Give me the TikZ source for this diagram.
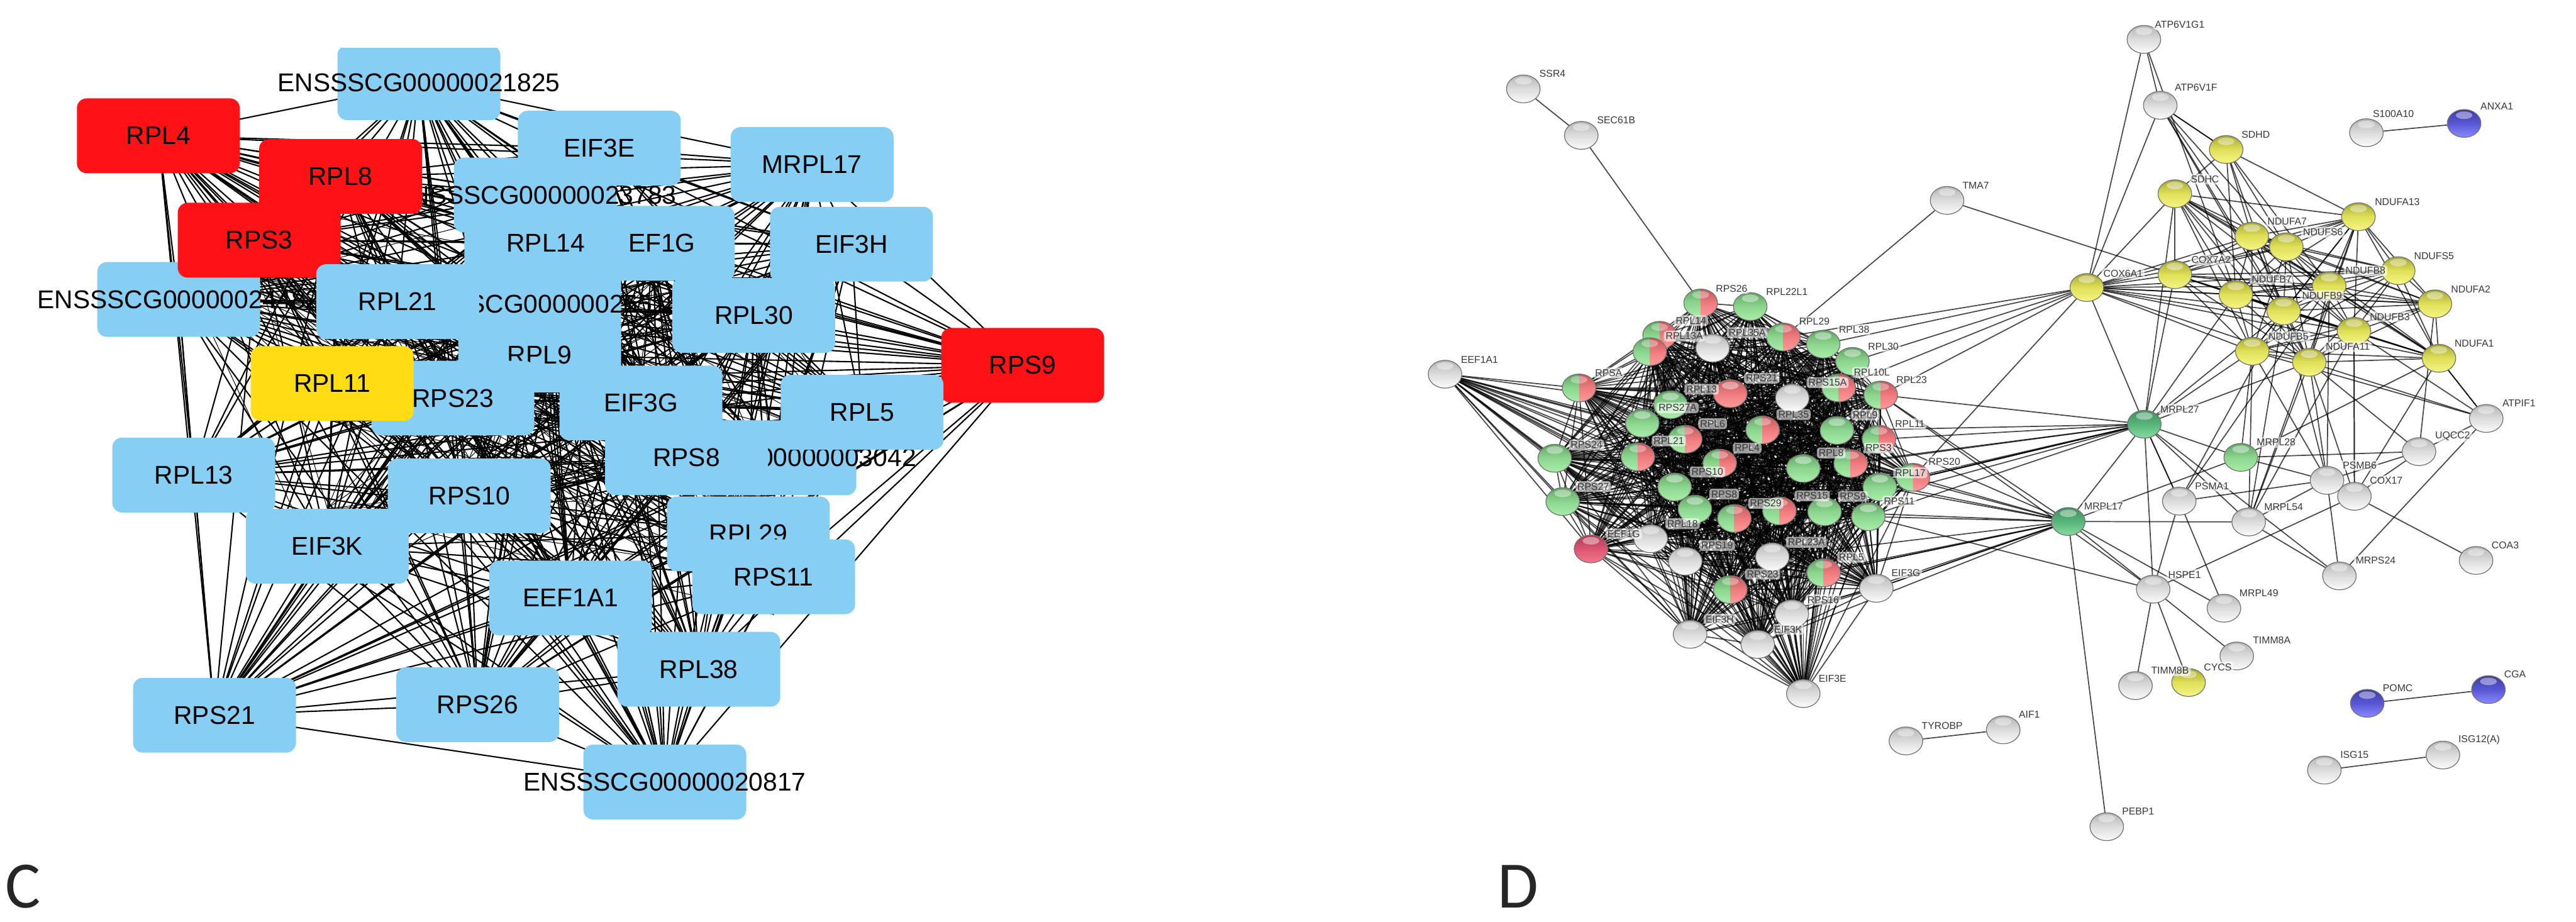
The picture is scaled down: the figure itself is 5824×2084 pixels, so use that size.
\documentclass[tikz,border=0pt]{standalone}
\usepackage{fontspec}
\usetikzlibrary{shapes.geometric}
\setmainfont{Liberation Sans}
\newfontfamily\letterfont{Carlito}
\pgfdeclarelayer{edgelayer}
\pgfdeclarelayer{lablayer}
\pgfsetlayers{edgelayer,main,lablayer}
\definecolor{cblue}{HTML}{87CEF5}
\definecolor{cred}{HTML}{FF1216}
\definecolor{cyel}{HTML}{FFDC14}
\definecolor{gT}{HTML}{5DA562}\definecolor{gM}{HTML}{8DD68F}\definecolor{gB}{HTML}{A8EDA8}
\definecolor{rT}{HTML}{C4565A}\definecolor{rM}{HTML}{EE7C7E}\definecolor{rB}{HTML}{FF9A9A}
\definecolor{wT}{HTML}{B4B4B4}\definecolor{wM}{HTML}{DCDCDC}\definecolor{wB}{HTML}{FBFBFB}
\definecolor{yT}{HTML}{A5A62E}\definecolor{yM}{HTML}{E0E05A}\definecolor{yB}{HTML}{F5F584}
\definecolor{bT}{HTML}{3C3CA5}\definecolor{bM}{HTML}{5757D5}\definecolor{bB}{HTML}{8A8AFF}
\definecolor{dT}{HTML}{3E8F5E}\definecolor{dM}{HTML}{58B47A}\definecolor{dB}{HTML}{86DCA0}
\definecolor{kT}{HTML}{B03A55}\definecolor{kM}{HTML}{DC5570}\definecolor{kB}{HTML}{F07A8A}
\newcommand\ballfill[3]{%
  \fill[top color=#1,bottom color=#3,middle color=#2] (path picture bounding box.south west) rectangle (path picture bounding box.north east);
  \fill[white,opacity=.42] ([yshift=-.13cm]path picture bounding box.north) ellipse [x radius=.19cm,y radius=.085cm];}
\newcommand\splitfill{%
  \fill[top color=gT,bottom color=gB,middle color=gM] (path picture bounding box.south west) rectangle (path picture bounding box.north);
  \fill[top color=rT,bottom color=rB,middle color=rM] (path picture bounding box.south) rectangle (path picture bounding box.north east);
  \fill[white,opacity=.35] ([yshift=-.13cm]path picture bounding box.north) ellipse [x radius=.19cm,y radius=.085cm];}
\tikzset{
  cbx/.style={rectangle,rounded corners=.22cm,minimum width=3.68cm,minimum height=1.69cm,inner sep=0pt,text=black,font=\fontsize{16.5}{18}\selectfont},
  bluebox/.style={cbx,fill=cblue},
  redbox/.style={cbx,fill=cred},
  yelbox/.style={cbx,fill=cyel},
  sph/.style={ellipse,minimum width=.76cm,minimum height=.63cm,inner sep=0pt,draw=black!55,line width=.5pt},
  gn/.style={sph,path picture={\ballfill{gT}{gM}{gB}}},
  rd/.style={sph,path picture={\ballfill{rT}{rM}{rB}}},
  wh/.style={sph,path picture={\ballfill{wT}{wM}{wB}}},
  yl/.style={sph,path picture={\ballfill{yT}{yM}{yB}}},
  bl/.style={sph,path picture={\ballfill{bT}{bM}{bB}}},
  dg/.style={sph,path picture={\ballfill{dT}{dM}{dB}}},
  kr/.style={sph,path picture={\ballfill{kT}{kM}{kB}}},
  sp/.style={sph,path picture={\splitfill}},
  lab/.style={inner sep=1.2pt,rounded corners=.06cm,fill=white,fill opacity=.6,text opacity=1,text=black!78,font=\fontsize{6.4}{7}\selectfont},
  cedge/.style={black,line width=.85pt},
  cedgethin/.style={black,line width=.4pt},
  dedge/.style={draw=black,draw opacity=.72,line width=.7pt},
  panel/.style={text=black!85,inner sep=0pt,font=\letterfont\fontsize{42.6}{46}\selectfont}
}
\newcommand\sn[7]{\node[#4] (#1) at (#2,#3) {};\begin{pgfonlayer}{lablayer}\node[lab] (#1L) at (#6,#7) {#5};\end{pgfonlayer}}
\newcommand\cn[5]{\node[#4] (#1) at (#2,#3) {\makebox[0pt]{#5}};}
\begin{document}
\begin{tikzpicture}[x=.01cm,y=-.01cm]
\useasboundingbox (0,0) rectangle (5824,2084);
\begin{pgfonlayer}{edgelayer}\fill[white] (0,0) rectangle (5824,2084);\end{pgfonlayer}
% ---------- panel C
\begin{scope}
\clip (0,109) rectangle (2800,400);
\cn{cA}{947}{187}{bluebox}{ENSSSCG00000021825}
\end{scope}
\cn{cB}{404}{677}{bluebox}{ENSSSCG00000024482}
\cn{cRPSnine}{2312}{826}{redbox}{RPS9}
\cn{cRPLfour}{358}{307}{redbox}{RPL4}
\cn{cC}{1220}{688}{bluebox}{ENSSSCG00000025518}
\cn{cD}{1210}{441}{bluebox}{ENSSSCG00000023783}
\cn{cEIFE}{1355}{335}{bluebox}{EIF3E}
\cn{cMRPL}{1836}{372}{bluebox}{MRPL17}
\cn{cEIFH}{1925}{552}{bluebox}{EIF3H}
\cn{cEFG}{1477}{550}{bluebox}{EEF1G}
\cn{cRPLfourteen}{1234}{550}{bluebox}{RPL14}
\cn{cRPLthirty}{1704}{713}{bluebox}{RPL30}
\cn{cRPLeight}{770}{399}{redbox}{RPL8}
\cn{cRPSthree}{586}{543}{redbox}{RPS3}
\cn{cRPLtwentyone}{899}{682}{bluebox}{RPL21}
\cn{cRPLnine}{1220}{803}{bluebox}{RPL9}
\cn{cEIFG}{1449}{911}{bluebox}{EIF3G}
\cn{cRPStwentythree}{1024}{900}{bluebox}{RPS23}
\cn{cRPLeleven}{751}{867}{yelbox}{RPL11}
\cn{cE}{1752}{1035}{bluebox}{ENSSSCG00000003042}
\cn{cRPSeight}{1552}{1035}{bluebox}{RPS8}
\cn{cRPLfive}{1949}{932}{bluebox}{RPL5}
\cn{cRPLthirteen}{438}{1074}{bluebox}{RPL13}
\cn{cRPSten}{1061}{1121}{bluebox}{RPS10}
\cn{cEIFK}{740}{1235}{bluebox}{EIF3K}
\cn{cRPLtwentynine}{1692}{1207}{bluebox}{RPL29}
\cn{cRPSeleven}{1749}{1304}{bluebox}{RPS11}
\cn{cEEF}{1290}{1352}{bluebox}{EEF1A1}
\cn{cRPLthirtyeight}{1580}{1513}{bluebox}{RPL38}
\cn{cRPStwentyone}{485}{1617}{bluebox}{RPS21}
\cn{cRPStwentysix}{1080}{1593}{bluebox}{RPS26}
\cn{cF}{1503}{1768}{bluebox}{ENSSSCG00000020817}
\begin{pgfonlayer}{edgelayer}
\foreach \a [count=\i] in {cA,cB,cRPSnine,cRPLfour,cC,cD,cEIFE,cMRPL,cEIFH,cRPLfourteen,cEFG,cRPLthirty,cRPLeight,cRPSthree,cRPLtwentyone,cRPLnine,cEIFG,cRPStwentythree,cRPLeleven,cE,cRPSeight,cRPLfive,cRPLthirteen,cRPSten,cEIFK,cRPLtwentynine,cRPSeleven,cEEF,cRPLthirtyeight,cRPStwentyone,cRPStwentysix,cF}{
 \foreach \b [count=\j] in {cA,cB,cRPSnine,cRPLfour,cC,cD,cEIFE,cMRPL,cEIFH,cRPLfourteen,cEFG,cRPLthirty,cRPLeight,cRPSthree,cRPLtwentyone,cRPLnine,cEIFG,cRPStwentythree,cRPLeleven,cE,cRPSeight,cRPLfive,cRPLthirteen,cRPSten,cEIFK,cRPLtwentynine,cRPSeleven,cEEF,cRPLthirtyeight,cRPStwentyone,cRPStwentysix,cF}{
  \ifnum\j>\i \draw[cedge] (\a.center)--(\b.center);\fi}}
\foreach \a [count=\i] in {cB,cC,cRPLthirty,cRPLnine,cEIFG,cRPStwentythree,cRPSeight,cRPSten,cEIFK,cRPLtwentynine,cRPLeleven,cRPLfourteen,cRPSthree,cRPLtwentyone,cEFG,cRPLfive,cE,cRPSeleven}{
 \foreach \b [count=\j] in {cB,cC,cRPLthirty,cRPLnine,cEIFG,cRPStwentythree,cRPSeight,cRPSten,cEIFK,cRPLtwentynine,cRPLeleven,cRPLfourteen,cRPSthree,cRPLtwentyone,cEFG,cRPLfive,cE,cRPSeleven}{
  \ifnum\j>\i \draw[cedgethin] (\a.north)--(\b.south);\fi}}
\end{pgfonlayer}
\node[panel] (pC) at (52,2005) {C};
\node[panel] (pD) at (3432,2005) {D};
% ---------- panel D : ribosomal core
\sn{RPSXXVI}{3845}{685}{sp}{RPS26}{3915}{652}
\sn{RPLXXIIL}{3957}{693}{gn}{RPL22L1}{4040}{659}
\sn{RPLXIV}{3752}{758}{sp}{RPL14}{3823}{725}
\sn{RPLXIIIA}{3730}{795}{sp}{RPL13A}{3808}{760}
\sn{RPLXXXVA}{3872}{787}{wh}{RPL35A}{3950}{752}
\sn{RPSA}{3570}{877}{sp}{RPSA}{3637}{843}
\sn{RPSXXI}{3912}{890}{rd}{RPS21}{3983}{855}
\sn{RPLXIII}{3777}{915}{gn}{RPL13}{3847}{880}
\sn{RPSXXVIIA}{3713}{957}{gn}{RPS27A}{3793}{922}
\sn{RPLVI}{3810}{993}{sp}{RPL6}{3872}{958}
\sn{RPLXXI}{3703}{1033}{sp}{RPL21}{3773}{997}
\sn{RPLIV}{3888}{1047}{sp}{RPL4}{3950}{1013}
\sn{RPSXXIV}{3515}{1036}{gn}{RPS24}{3587}{1006}
\sn{RPSXXVII}{3533}{1134}{gn}{RPS27}{3602}{1100}
\sn{RPSX}{3786}{1101}{gn}{RPS10}{3860}{1067}
\sn{RPSVIII}{3832}{1151}{gn}{RPS8}{3898}{1117}
\sn{RPSXXIX}{3921}{1172}{sp}{RPS29}{3992}{1138}
\sn{RPSXV}{4023}{1155}{sp}{RPS15}{4097}{1121}
\sn{RPSIX}{4125}{1157}{gn}{RPS9}{4189}{1122}
\sn{RPSXI}{4224}{1168}{gn}{RPS11}{4294}{1133}
\sn{RPLVIII}{4077}{1059}{gn}{RPL8}{4140}{1024}
\sn{RPSIII}{4184}{1048}{sp}{RPS3}{4247}{1013}
\sn{RPLIX}{4153}{973}{gn}{RPL9}{4217}{938}
\sn{RPLXXXV}{3985}{972}{sp}{RPL35}{4055}{937}
\sn{RPSXVA}{4052}{900}{wh}{RPS15A}{4132}{865}
\sn{RPLXL}{4157}{877}{sp}{RPL10L}{4232}{842}
\sn{RPLXI}{4248}{993}{sp}{RPL11}{4318}{958}
\sn{RPSXX}{4325}{1079}{sp}{RPS20}{4396}{1043}
\sn{RPLXVII}{4250}{1101}{gn}{RPL17}{4319}{1069}
\sn{RPLXXIX}{4032}{762}{sp}{RPL29}{4102}{727}
\sn{RPLXXXVIII}{4122}{778}{gn}{RPL38}{4192}{745}
\sn{RPLXXX}{4188}{817}{gn}{RPL30}{4258}{783}
\sn{RPLXXIII}{4252}{893}{sp}{RPL23}{4322}{859}
\sn{EEFG}{3597}{1241}{kr}{EEF1G}{3671}{1207}
\sn{RPLXVIII}{3732}{1218}{wh}{RPL18}{3804}{1184}
\sn{RPSXIX}{3810}{1269}{wh}{RPS19}{3882}{1233}
\sn{RPLXXIIIA}{4007}{1259}{wh}{RPL23A}{4084}{1226}
\sn{RPSXXIII}{3912}{1333}{sp}{RPS23}{3985}{1298}
\sn{RPLV}{4123}{1295}{sp}{RPL5}{4186}{1260}
\sn{RPSXVI}{4051}{1388}{wh}{RPS16}{4122}{1356}
\sn{EIFH}{3821}{1434}{wh}{EIF3H}{3888}{1400}
\sn{EIFK}{3974}{1457}{wh}{EIF3K}{4043}{1423}
\sn{EIFG}{4242}{1330}{wh}{EIF3G}{4309}{1295}
\sn{EIFE}{4077}{1568}{wh}{EIF3E}{4143}{1534}
% other nodes of panel D
\sn{EEFA}{3267}{846}{wh}{EEF1A1}{3345}{813}
\sn{SSR}{3444}{201}{wh}{SSR4}{3510}{167}
\sn{SEC}{3575}{306}{wh}{SEC61B}{3654}{272}
\sn{TMA}{4402}{453}{wh}{TMA7}{4467}{419}
\sn{COXsix}{4718}{650}{yl}{COX6A1}{4800}{618}
\sn{COXseven}{4917}{621}{yl}{COX7A2}{4999}{588}
\sn{SDHD}{5033}{338}{yl}{SDHD}{5100}{305}
\sn{SDHC}{4917}{438}{yl}{SDHC}{4985}{405}
\sn{NAxiii}{5332}{490}{yl}{NDUFA13}{5420}{456}
\sn{NAvii}{5091}{534}{yl}{NDUFA7}{5171}{500}
\sn{NSvi}{5169}{558}{yl}{NDUFS6}{5252}{525}
\sn{NSv}{5422}{612}{yl}{NDUFS5}{5503}{579}
\sn{NBviii}{5266}{646}{yl}{NDUFB8}{5348}{612}
\sn{NBvii}{5055}{666}{yl}{NDUFB7}{5136}{631}
\sn{NAii}{5505}{687}{yl}{NDUFA2}{5586}{654}
\sn{NBix}{5163}{703}{yl}{NDUFB9}{5250}{669}
\sn{NBiii}{5322}{749}{yl}{NDUFB3}{5403}{716}
\sn{NBv}{5092}{794}{yl}{NDUFB5}{5174}{761}
\sn{NAxi}{5221}{819}{yl}{NDUFA11}{5308}{784}
\sn{NAi}{5514}{810}{yl}{NDUFA1}{5594}{776}
\sn{ATPI}{5621}{946}{wh}{ATPIF1}{5695}{912}
\sn{UQCC}{5469}{1021}{wh}{UQCC2}{5545}{986}
\sn{MRPLxxvii}{4848}{959}{dg}{MRPL27}{4928}{925}
\sn{MRPLxxviii}{5066}{1034}{gn}{MRPL28}{5146}{1000}
\sn{PSMA}{4927}{1133}{wh}{PSMA1}{5001}{1099}
\sn{MRPLliv}{5084}{1180}{wh}{MRPL54}{5163}{1146}
\sn{PSMB}{5261}{1086}{wh}{PSMB6}{5335}{1052}
\sn{COXxvii}{5323}{1122}{wh}{COX17}{5395}{1087}
\sn{MRPSxxiv}{5289}{1302}{wh}{MRPS24}{5371}{1267}
\sn{COA}{5598}{1267}{wh}{COA3}{5664}{1233}
\sn{MRPLxvii}{4676}{1179}{dg}{MRPL17}{4756}{1145}
\sn{HSPE}{4868}{1332}{wh}{HSPE1}{4939}{1299}
\sn{MRPLxlix}{5028}{1375}{wh}{MRPL49}{5107}{1341}
\sn{TIMa}{5057}{1483}{wh}{TIMM8A}{5136}{1448}
\sn{CYCS}{4948}{1543}{yl}{CYCS}{5014}{1508}
\sn{TIMb}{4828}{1550}{wh}{TIMM8B}{4906}{1516}
\sn{TYRO}{4309}{1675}{wh}{TYROBP}{4391}{1641}
\sn{AIF}{4529}{1650}{wh}{AIF1}{4588}{1615}
\sn{PEBP}{4763}{1869}{wh}{PEBP1}{4834}{1834}
\sn{POMC}{5352}{1590}{bl}{POMC}{5421}{1555}
\sn{CGA}{5626}{1559}{bl}{CGA}{5686}{1524}
\sn{ISGa}{5255}{1741}{wh}{ISG15}{5323}{1707}
\sn{ISGb}{5523}{1707}{wh}{ISG12(A)}{5605}{1672}
\sn{SC}{5350}{300}{wh}{S100A10}{5411}{258}
\sn{ANXA}{5571}{279}{bl}{ANXA1}{5645}{241}
\sn{ATPg}{4847}{89}{wh}{ATP6V1G1}{4928}{56}
\sn{ATPf}{4884}{238}{wh}{ATP6V1F}{4965}{197}
\begin{pgfonlayer}{edgelayer}
\foreach \a [count=\i] in {RPSXXVI,RPLXXIIL,RPLXIV,RPLXIIIA,RPLXXXVA,RPSA,RPSXXI,RPLXIII,RPSXXVIIA,RPLVI,RPLXXI,RPLIV,RPSXXIV,RPSXXVII,RPSX,RPSVIII,RPSXXIX,RPSXV,RPSIX,RPSXI,RPLVIII,RPSIII,RPLIX,RPLXXXV,RPSXVA,RPLXL,RPLXI,RPSXX,RPLXVII,RPLXXIX,RPLXXXVIII,RPLXXX,RPLXXIII,EEFG,RPLXVIII,RPSXIX,RPLXXIIIA,RPSXXIII,RPLV,RPSXVI,EIFH,EIFK,EIFG,EIFE}{
 \foreach \b [count=\j] in {RPSXXVI,RPLXXIIL,RPLXIV,RPLXIIIA,RPLXXXVA,RPSA,RPSXXI,RPLXIII,RPSXXVIIA,RPLVI,RPLXXI,RPLIV,RPSXXIV,RPSXXVII,RPSX,RPSVIII,RPSXXIX,RPSXV,RPSIX,RPSXI,RPLVIII,RPSIII,RPLIX,RPLXXXV,RPSXVA,RPLXL,RPLXI,RPSXX,RPLXVII,RPLXXIX,RPLXXXVIII,RPLXXX,RPLXXIII,EEFG,RPLXVIII,RPSXIX,RPLXXIIIA,RPSXXIII,RPLV,RPSXVI,EIFH,EIFK,EIFG,EIFE}{
  \ifnum\j>\i \draw[dedge] (\a.center)--(\b.center);\fi}}
\foreach \b in {RPSA,RPSXXIV,RPSXXVII,EEFG,RPLXXI,RPLXIII,RPSXXVIIA,RPSX,RPSVIII,RPSXXIX,RPLIV,RPSXV,RPLVIII,RPSIX,RPSXI,RPLVI,RPSXIX,RPLXVIII,RPLXXIIIA,EIFH,RPSXXIII,RPLV}{\draw[dedge] (EEFA.center)--(\b.center);}
\foreach \a [count=\i] in {COXsix,COXseven,NAxiii,NAvii,NSvi,NSv,NBviii,NBvii,NAii,NBix,NBiii,NBv,NAxi,NAi}{
 \foreach \b [count=\j] in {COXsix,COXseven,NAxiii,NAvii,NSvi,NSv,NBviii,NBvii,NAii,NBix,NBiii,NBv,NAxi,NAi}{
  \ifnum\j>\i \draw[dedge] (\a.center)--(\b.center);\fi}}
\foreach \b in {NAvii,NSvi,NBvii,NBviii,NBix,NAxiii,COXsix,COXseven,NBv,NAxi,NAi,NBiii,SDHD,MRPLxxvii}{\draw[dedge] (SDHC.center)--(\b.center);}
\foreach \b in {NAvii,NSvi,NBix,NBvii,NAxiii,NBviii,ATPf}{\draw[dedge] (SDHD.center)--(\b.center);}
\foreach \b in {RPLXXIX,RPLXXXVIII,RPLXXX,RPLXL,RPLXXIII,RPSXX,ATPf,ATPg,MRPLxxvii}{\draw[dedge] (COXsix.center)--(\b.center);}
\foreach \b in {RPLXI,RPSIII,RPSXX,RPLXVII,RPSXI,RPLVIII,RPSXV,RPSIX,RPLIX,RPLXXIII,RPLXVII,MRPLxvii,COXseven,NBvii,NBv,NAxi,NBix,MRPLxxviii,MRPLliv,PSMA,PSMA,HSPE,MRPSxxiv}{\draw[dedge] (MRPLxxvii.center)--(\b.center);}
\foreach \b in {RPLXXIII,RPLXI,RPSIII,RPSXX,RPLXVII,RPSXI,RPSIX,RPLV,RPSXXIII,RPLXXIIIA,EIFG,EIFG,EIFK,RPSXVI,RPLVIII,RPLV,MRPLliv,HSPE,MRPLxlix,PEBP,MRPLxxviii}{\draw[dedge] (MRPLxvii.center)--(\b.center);}
\foreach \b in {RPLXXIII,RPSXI,PSMA,TIMa,TIMb,CYCS,COXxvii}{\draw[dedge] (HSPE.center)--(\b.center);}
\foreach \b in {PSMB,MRPLxlix,NBviii,NBix}{\draw[dedge] (PSMA.center)--(\b.center);}
\foreach \b in {NBviii,NBix,NBv,NAxi,MRPSxxiv,MRPLxxviii,MRPLliv,UQCC}{\draw[dedge] (PSMB.center)--(\b.center);}
\foreach \b in {NBv,NAxi,NBix,NBiii,MRPSxxiv,NAxiii}{\draw[dedge] (MRPLliv.center)--(\b.center);}
\foreach \b in {NAi,NAi,UQCC,NAxi,NBv,NBiii,MRPSxxiv}{\draw[dedge] (ATPI.center)--(\b.center);}
\foreach \b in {NAxi,NAii,MRPLxxviii}{\draw[dedge] (UQCC.center)--(\b.center);}
\foreach \b in {UQCC,COA,NAxi,NBiii,NBiii,NAi}{\draw[dedge] (COXxvii.center)--(\b.center);}
\foreach \b in {NAi,NBv}{\draw[dedge] (MRPLxxviii.center)--(\b.center);}
\foreach \b in {NBix,NAvii,NSvi,NAxi,ATPg,SDHD}{\draw[dedge] (ATPf.center)--(\b.center);}
\foreach \b in {NBvii}{\draw[dedge] (ATPg.center)--(\b.center);}
\draw[dedge] (SSR)--(SEC);
\draw[dedge] (SEC)--(RPSXXVI.center);
\draw[dedge] (TMA)--(RPLXXIX.center);
\draw[dedge] (TMA)--(COXseven.center);
\draw[dedge] (TYRO)--(AIF);
\draw[dedge] (POMC)--(CGA);
\draw[dedge] (ISGa)--(ISGb);
\draw[dedge] (SC)--(ANXA);
\end{pgfonlayer}
\end{tikzpicture}
\end{document}
